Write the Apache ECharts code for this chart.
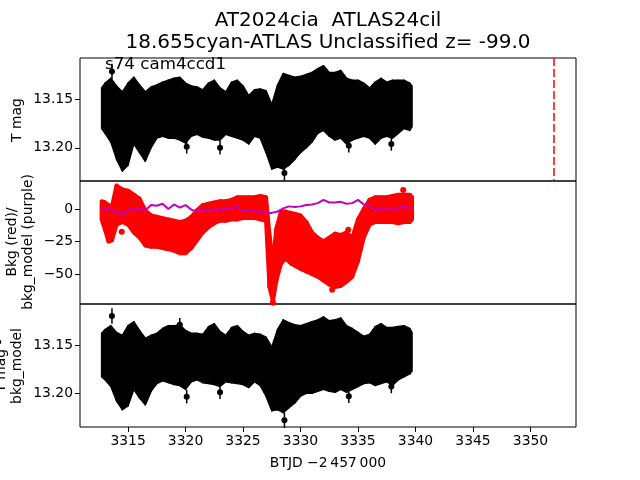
<!DOCTYPE html>
<html>
<head>
<meta charset="utf-8">
<script src="https://cdn.jsdelivr.net/npm/echarts@6/dist/echarts.min.js"></script>
<style>html,body{margin:0;padding:0;background:#fff}#c{width:640px;height:480px}</style>
</head>
<body>
<div id="c"></div>
<script>
// ---- data ----
const titleLine1 = "AT2024cia  ATLAS24cil";
const titleLine2 = "18.655cyan-ATLAS Unclassified z= -99.0";
const panelNote = "s74 cam4ccd1";
const xTicks = [3315, 3320, 3325, 3330, 3335, 3340, 3345, 3350];
const magTicks = [13.15, 13.20];
const bkgTicks = [-50, -25, 0];
const xRange = [3310.82, 3353.96];
const topMagRange = [13.107, 13.2344];
const bkgRange = [-73, 21.5];
const botMagRange = [13.1076, 13.2349];
const eventX = 3352.0;

// light-curve time grid (BTJD - 2457000)
const lcTime = [3312.7,3313.0,3313.5,3314.0,3314.5,3315.0,3315.5,3316.0,3316.5,3317.0,3317.5,3318.0,3318.5,3319.0,3319.5,3320.0,3320.5,3321.0,3321.5,3322.0,3322.5,3323.0,3323.5,3324.0,3324.5,3325.0,3325.5,3326.0,3326.5,3327.0,3327.5,3328.0,3328.5,3329.0,3329.5,3330.0,3330.5,3331.0,3331.5,3332.0,3332.5,3333.0,3333.5,3334.0,3334.5,3335.0,3335.5,3336.0,3336.5,3337.0,3337.5,3338.0,3338.5,3339.0,3339.5,3339.7];
// top panel: T mag envelope (bright edge / faint edge)
const tmagBright = [13.138,13.133,13.128,13.136,13.142,13.133,13.127,13.135,13.142,13.137,13.135,13.132,13.130,13.128,13.127,13.133,13.136,13.137,13.140,13.133,13.130,13.138,13.142,13.132,13.130,13.136,13.146,13.140,13.139,13.141,13.155,13.135,13.123,13.125,13.127,13.126,13.124,13.122,13.118,13.115,13.122,13.122,13.120,13.128,13.130,13.130,13.133,13.138,13.132,13.128,13.132,13.130,13.130,13.130,13.133,13.136];
const tmagFaint = [13.180,13.185,13.194,13.212,13.224,13.218,13.196,13.205,13.214,13.200,13.190,13.188,13.190,13.190,13.192,13.195,13.188,13.186,13.189,13.190,13.192,13.192,13.186,13.188,13.190,13.192,13.196,13.188,13.190,13.205,13.222,13.220,13.222,13.218,13.212,13.205,13.200,13.194,13.185,13.182,13.188,13.192,13.190,13.196,13.192,13.190,13.188,13.190,13.196,13.190,13.188,13.190,13.185,13.180,13.182,13.178];
const tmagDotT = [3313.6, 3320.1, 3323.0, 3328.6, 3334.2, 3337.9];
const tmagDotV = [13.121, 13.199, 13.200, 13.226, 13.198, 13.196];
const tmagDotErr = [0.008, 0.007, 0.007, 0.008, 0.007, 0.007];

// bottom panel: T mag - bkg_model envelope
const corrBright = [13.138,13.134,13.130,13.137,13.140,13.130,13.126,13.135,13.143,13.140,13.138,13.133,13.130,13.130,13.129,13.135,13.138,13.138,13.139,13.131,13.128,13.136,13.140,13.132,13.130,13.136,13.140,13.138,13.139,13.142,13.152,13.134,13.124,13.127,13.129,13.130,13.128,13.126,13.124,13.121,13.125,13.124,13.122,13.130,13.133,13.137,13.141,13.139,13.131,13.128,13.132,13.132,13.131,13.130,13.133,13.137];
const corrFaint = [13.183,13.186,13.193,13.208,13.217,13.213,13.196,13.205,13.212,13.198,13.190,13.187,13.189,13.191,13.192,13.196,13.188,13.186,13.189,13.190,13.191,13.193,13.188,13.189,13.190,13.191,13.194,13.188,13.192,13.203,13.218,13.217,13.220,13.215,13.210,13.203,13.200,13.200,13.198,13.196,13.198,13.199,13.196,13.199,13.196,13.193,13.190,13.189,13.192,13.190,13.188,13.192,13.186,13.183,13.180,13.177];
const corrDotT = [3313.6, 3319.5, 3320.1, 3323.0, 3328.6, 3334.2, 3337.9];
const corrDotV = [13.120, 13.129, 13.2035, 13.199, 13.228, 13.203, 13.193];
const corrDotErr = [0.008, 0.007, 0.007, 0.007, 0.008, 0.007, 0.007];

// middle panel: background (red) envelope
const bkgTime = [3312.7,3313.0,3313.3,3313.6,3314.0,3314.5,3315.0,3315.5,3316.0,3316.5,3317.0,3317.5,3318.0,3318.5,3319.0,3319.5,3320.0,3320.5,3321.0,3321.5,3322.0,3322.5,3323.0,3323.5,3324.0,3324.5,3325.0,3325.5,3326.0,3326.5,3327.0,3327.3,3327.6,3327.9,3328.3,3328.7,3329.2,3329.6,3330.0,3330.5,3331.0,3331.5,3332.0,3332.5,3333.0,3333.5,3334.0,3334.5,3335.0,3335.5,3336.0,3336.5,3337.0,3337.5,3338.0,3338.5,3339.0,3339.5,3339.7];
const bkgHigh = [6,5,3,2,18,15,14,11,8,-1,-5,-6,-7,-8,-9,-10,-9,-6,-1,3,4,5,6,6,7,9,9,9,9,10,9,-20,-40,-15,-2,-2,-3,-4,-5,-10,-18,-22,-25,-22,-19,-20,-18,-22,-8,0,7,9,9,9,10,11,11,11,9];
const bkgLow = [-8,-16,-25,-24,-12,-10,-12,-18,-22,-28,-29,-29,-30,-31,-32,-34,-34,-30,-24,-18,-14,-11,-9,-9,-8,-8,-7,-7,-7,-8,-9,-60,-71,-55,-42,-38,-42,-44,-46,-48,-50,-52,-55,-58,-60,-59,-56,-52,-40,-22,-12,-10,-10,-10,-10,-11,-10,-10,-8];
const bkgDotT = [3314.45, 3327.6, 3332.75, 3334.15, 3338.93];
const bkgDotV = [-17.5, -72, -62, -16, 14.6];
// bkg_model (purple)
const modelTime = [3312.7,3313.0,3313.5,3314.0,3314.5,3315.0,3315.5,3316.0,3316.5,3317.0,3317.5,3318.0,3318.5,3319.0,3319.5,3320.0,3320.5,3321.0,3321.5,3322.0,3322.5,3323.0,3323.5,3324.0,3324.5,3325.0,3325.5,3326.0,3326.5,3327.0,3327.5,3328.0,3328.5,3329.0,3329.5,3330.0,3330.5,3331.0,3331.5,3332.0,3332.5,3333.0,3333.5,3334.0,3334.5,3335.0,3335.5,3336.0,3336.5,3337.0,3337.5,3338.0,3338.5,3339.0,3339.5,3339.7];
const modelVal = [0.5,1,-1,-2,-4.5,-1,0.5,0,-1,3,2.5,4,0,3.5,1,3,-0.5,-2,0,-1.5,0,-1,1,0.5,2,-1.5,-1,-1.5,-2,-3,-3,-2,0.5,2,1.5,2,3,3.5,4.5,7,5,5,5.5,4,4.5,7,3.5,2.5,-1,1,0,-0.5,1,1.5,1,1];

// ---- chart ----
const FONT = 'DejaVu Sans';
const zip2 = (a, b) => a.map((v, i) => [v, b[i]]);
const zip3 = (a, b, c) => a.map((v, i) => [v, b[i], c[i]]);

function bandRender(T, HI, LO, color, lw) {
  return function (params, api) {
    const i = params.dataIndex;
    if (i >= T.length - 1) return null;
    const pts = [
      api.coord([T[i], HI[i]]), api.coord([T[i + 1], HI[i + 1]]),
      api.coord([T[i + 1], LO[i + 1]]), api.coord([T[i], LO[i]])
    ];
    return { type: 'polygon', shape: { points: pts },
      style: { fill: color, stroke: color, lineWidth: lw, lineJoin: 'round' } };
  };
}
function errRender(params, api) {
  const x = api.value(0), y = api.value(1), e = api.value(2);
  const a = api.coord([x, y - e]), b = api.coord([x, y + e]);
  return { type: 'line', shape: { x1: a[0], y1: a[1], x2: b[0], y2: b[1] },
    style: { stroke: '#000', lineWidth: 1.5 } };
}

const tops = [58, 181, 304];
const grids = tops.map(t => ({ left: 80, right: 64, top: t, height: 123, show: true,
  borderColor: '#000', borderWidth: 1, backgroundColor: 'transparent' }));

const xAxes = [0, 1, 2].map(g => ({
  type: 'value', gridIndex: g, min: xRange[0], max: xRange[1],
  axisLine: { show: false }, splitLine: { show: false },
  axisTick: { show: g === 2, customValues: xTicks, length: 5, inside: false, lineStyle: { color: '#000', width: 1 } },
  axisLabel: { show: g === 2, customValues: xTicks, color: '#000', fontFamily: FONT, fontSize: 13.9, margin: 7,
    formatter: v => String(Math.round(v)) }
}));

const fmtMag = v => v.toFixed(2);
const fmtBkg = v => (v < 0 ? '\u2212' + Math.abs(v) : String(v));
function yAx(g, range, ticks, inv, fmt) {
  return { type: 'value', gridIndex: g, min: range[0], max: range[1], inverse: inv,
    axisLine: { show: false }, splitLine: { show: false },
    axisTick: { show: true, customValues: ticks, length: 5, inside: false, lineStyle: { color: '#000', width: 1 } },
    axisLabel: { customValues: ticks, color: '#000', fontFamily: FONT, fontSize: 13.9, margin: 7, formatter: fmt } };
}
const yAxes = [
  yAx(0, topMagRange, magTicks, true, fmtMag),
  yAx(1, bkgRange, bkgTicks, false, fmtBkg),
  yAx(2, botMagRange, magTicks, true, fmtMag)
];

function txt(text, x, y, size, align) {
  return { type: 'text', x: x, y: y, z: 100,
    style: { text: text, fontFamily: FONT, fontSize: size, fill: '#000', textAlign: align || 'center', textVerticalAlign: 'middle' } };
}
function vtxt(text, x, y) {
  const t = txt(text, x, y, 13.9);
  t.rotation = Math.PI / 2;
  return t;
}

const option = {
  animation: false,
  backgroundColor: '#fff',
  grid: grids,
  xAxis: xAxes,
  yAxis: yAxes,
  graphic: [
    txt(titleLine1, 328, 21, 20),
    txt(titleLine2, 328, 43, 20),
    txt(panelNote, 105, 65, 16.7, 'left'),
    vtxt('T mag', 17, 120),
    vtxt('Bkg (red)/', 12, 242),
    vtxt('bkg_model (purple)', 28, 242),
    vtxt('T mag -', 1, 366),
    vtxt('bkg_model', 17, 366),
    txt('BTJD \u22122\u2009457\u2009000', 328, 463, 13.9)
  ],
  series: [
    { type: 'custom', xAxisIndex: 0, yAxisIndex: 0, data: zip3(lcTime, tmagBright, tmagFaint),
      encode: { x: 0, y: [1, 2] }, renderItem: bandRender(lcTime, tmagBright, tmagFaint, '#000', 1.5), silent: true },
    { type: 'custom', xAxisIndex: 0, yAxisIndex: 0, data: zip3(tmagDotT, tmagDotV, tmagDotErr),
      encode: { x: 0, y: 1 }, renderItem: errRender, silent: true },
    { type: 'scatter', xAxisIndex: 0, yAxisIndex: 0, data: zip2(tmagDotT, tmagDotV), symbolSize: 6,
      itemStyle: { color: '#000', opacity: 1 }, silent: true,
      markLine: { silent: true, symbol: 'none', label: { show: false },
        lineStyle: { color: '#ff0000', type: [8, 3], width: 1.5, opacity: 1 }, data: [{ xAxis: eventX }] } },
    { type: 'custom', xAxisIndex: 1, yAxisIndex: 1, data: zip3(bkgTime, bkgHigh, bkgLow),
      encode: { x: 0, y: [1, 2] }, renderItem: bandRender(bkgTime, bkgHigh, bkgLow, '#ff0000', 4), silent: true },
    { type: 'scatter', xAxisIndex: 1, yAxisIndex: 1, data: zip2(bkgDotT, bkgDotV), symbolSize: 6,
      itemStyle: { color: '#ff0000', opacity: 1 }, silent: true },
    { type: 'line', xAxisIndex: 1, yAxisIndex: 1, data: zip2(modelTime, modelVal), showSymbol: false,
      lineStyle: { color: '#bf00bf', width: 2, opacity: 1 }, z: 5, silent: true },
    { type: 'custom', xAxisIndex: 2, yAxisIndex: 2, data: zip3(lcTime, corrBright, corrFaint),
      encode: { x: 0, y: [1, 2] }, renderItem: bandRender(lcTime, corrBright, corrFaint, '#000', 1.5), silent: true },
    { type: 'custom', xAxisIndex: 2, yAxisIndex: 2, data: zip3(corrDotT, corrDotV, corrDotErr),
      encode: { x: 0, y: 1 }, renderItem: errRender, silent: true },
    { type: 'scatter', xAxisIndex: 2, yAxisIndex: 2, data: zip2(corrDotT, corrDotV), symbolSize: 6,
      itemStyle: { color: '#000', opacity: 1 }, silent: true }
  ]
};
const chart = echarts.init(document.getElementById('c'), null, { renderer: 'canvas' });
chart.setOption(option);
</script>
</body>
</html>
